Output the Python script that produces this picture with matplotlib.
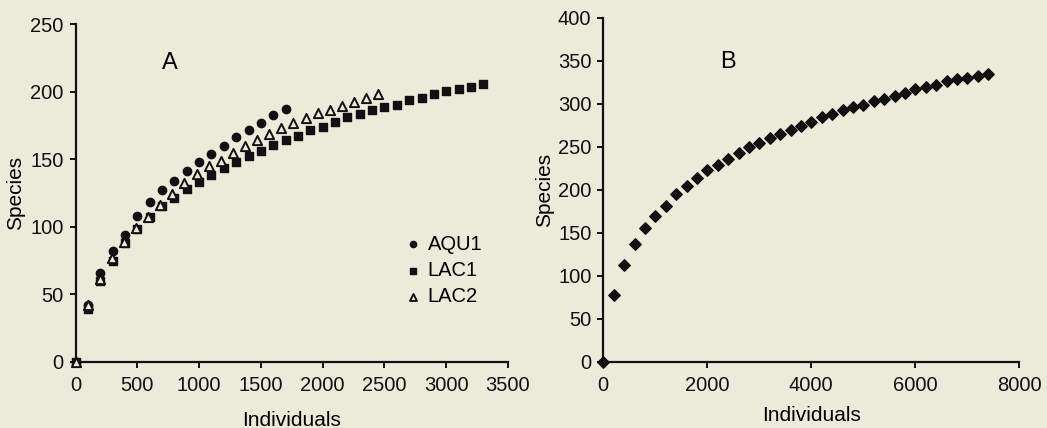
import matplotlib
matplotlib.use("Agg")
import matplotlib.pyplot as plt

plt.rcParams['font.family'] = ['Liberation Sans', 'DejaVu Sans']

# Panel A data
aqu1_x = [0, 100, 200, 300, 400, 500, 600, 700, 800, 900, 1000, 1100, 1200, 1300,
          1400, 1500, 1600, 1700]
aqu1_y = [0, 42, 65.5, 82, 94, 108, 118, 127, 134, 141, 148, 154, 160, 166.5,
          171.6, 177, 182.5, 187]

lac1_x = [0, 100, 200, 300, 400, 500, 600, 700, 800, 900, 1000, 1100, 1200, 1300,
          1400, 1500, 1600, 1700, 1800, 1900, 2000, 2100, 2200, 2300, 2400, 2500,
          2600, 2700, 2800, 2900, 3000, 3100, 3200, 3300]
lac1_y = [0, 39, 60, 74.6, 87.7, 98, 107, 115, 121.5, 127.7, 133, 138, 143.7, 148,
          152.4, 155.8, 160.2, 163.8, 167.1, 171.3, 173.8, 177.4, 180.8, 183.7,
          186.2, 188.4, 190.4, 193.6, 195.5, 198, 200.5, 202, 203.7, 205.7]

lac2_x = [0, 98, 196, 294, 392, 490, 588, 686, 784, 882, 980, 1078, 1176, 1274,
          1372, 1470, 1568, 1666, 1764, 1862, 1960, 2058, 2156, 2254, 2352, 2450]
lac2_y = [0, 42, 61.3, 76.6, 88.9, 98.8, 107.4, 116, 124.2, 132.1, 138.8, 144.9,
          148.9, 154.8, 159.8, 164.2, 168.7, 173, 177, 180.2, 183.9, 186.4, 189.4,
          192.6, 195.1, 198.3]

# Panel B data
b_x = [0, 200, 400, 600, 800, 1000, 1200, 1400, 1600, 1800, 2000, 2200, 2400, 2600,
       2800, 3000, 3200, 3400, 3600, 3800, 4000, 4200, 4400, 4600, 4800, 5000, 5200,
       5400, 5600, 5800, 6000, 6200, 6400, 6600, 6800, 7000, 7200, 7400]
b_y = [0, 77.5, 113, 136.5, 156, 170, 181.4, 194.6, 204.3, 213.2, 222.5, 229, 236,
       242.3, 249.3, 254, 260.5, 265, 269.8, 274, 279, 284, 287.7, 292.3, 295.8,
       298.5, 303.5, 305.8, 309.3, 312.8, 316.7, 319, 321.4, 326.4, 328.7, 330.2,
       332.6, 334.9]

a_xticks = [0, 500, 1000, 1500, 2000, 2500, 3000, 3500]
a_yticks = [0, 50, 100, 150, 200, 250]
b_xticks = [0, 2000, 4000, 6000, 8000]
b_yticks = [0, 50, 100, 150, 200, 250, 300, 350, 400]

bg = '#ecebd9'
ink = '#111111'
fig = plt.figure(figsize=(10.47, 4.28), dpi=100, facecolor=bg)
W, H = 1047, 428

def mk_ax(x0, x1, y0, y1):
    ax = fig.add_axes([x0 / W, (H - y0) / H, (x1 - x0) / W, (y0 - y1) / H])
    ax.set_facecolor(bg)
    for s in ['top', 'right']:
        ax.spines[s].set_visible(False)
    for s in ['left', 'bottom']:
        ax.spines[s].set_linewidth(1.6)
        ax.spines[s].set_color(ink)
    ax.tick_params(axis='both', direction='out', length=4.5, width=1.4,
                   labelsize=14.5, pad=4, colors=ink)
    ax.tick_params(axis='x', pad=6)
    return ax

axA = mk_ax(75.5, 508, 361.7, 24)
axA.scatter(aqu1_x, aqu1_y, marker='o', s=36, color=ink, zorder=3,
            label='AQU1', clip_on=False)
axA.scatter(lac1_x, lac1_y, marker='s', s=34, color=ink, zorder=2,
            label='LAC1', clip_on=False)
axA.scatter(lac2_x, lac2_y, marker='^', s=44, facecolor=bg, edgecolor=ink,
            linewidths=1.4, zorder=4, label='LAC2', clip_on=False)
axA.set_xlim(0, 3500)
axA.set_ylim(0, 250)
axA.set_xticks(a_xticks)
axA.set_yticks(a_yticks)
axA.set_xlabel('Individuals', fontsize=15, labelpad=11)
axA.set_ylabel('Species', fontsize=15, labelpad=4)
axA.text(0.217, 0.885, 'A', transform=axA.transAxes, fontsize=17,
         ha='center', va='center')
leg = axA.legend(loc='upper left', bbox_to_anchor=(0.742, 0.40), frameon=False,
                 fontsize=14.5, handletextpad=0.35, labelspacing=0.36,
                 markerscale=0.75, borderaxespad=0, handlelength=0.8)

axB = mk_ax(603.3, 1019.3, 361.7, 17.7)
axB.scatter(b_x, b_y, marker='D', s=34, color=ink, zorder=3, clip_on=False)
axB.set_xlim(0, 8000)
axB.set_ylim(0, 400)
axB.set_xticks(b_xticks)
axB.set_yticks(b_yticks)
axB.set_xlabel('Individuals', fontsize=15, labelpad=8)
axB.set_ylabel('Species', fontsize=15, labelpad=3)
axB.text(0.3, 0.87, 'B', transform=axB.transAxes, fontsize=17,
         ha='center', va='center')

fig.savefig('out.png', dpi=100, facecolor=bg)
